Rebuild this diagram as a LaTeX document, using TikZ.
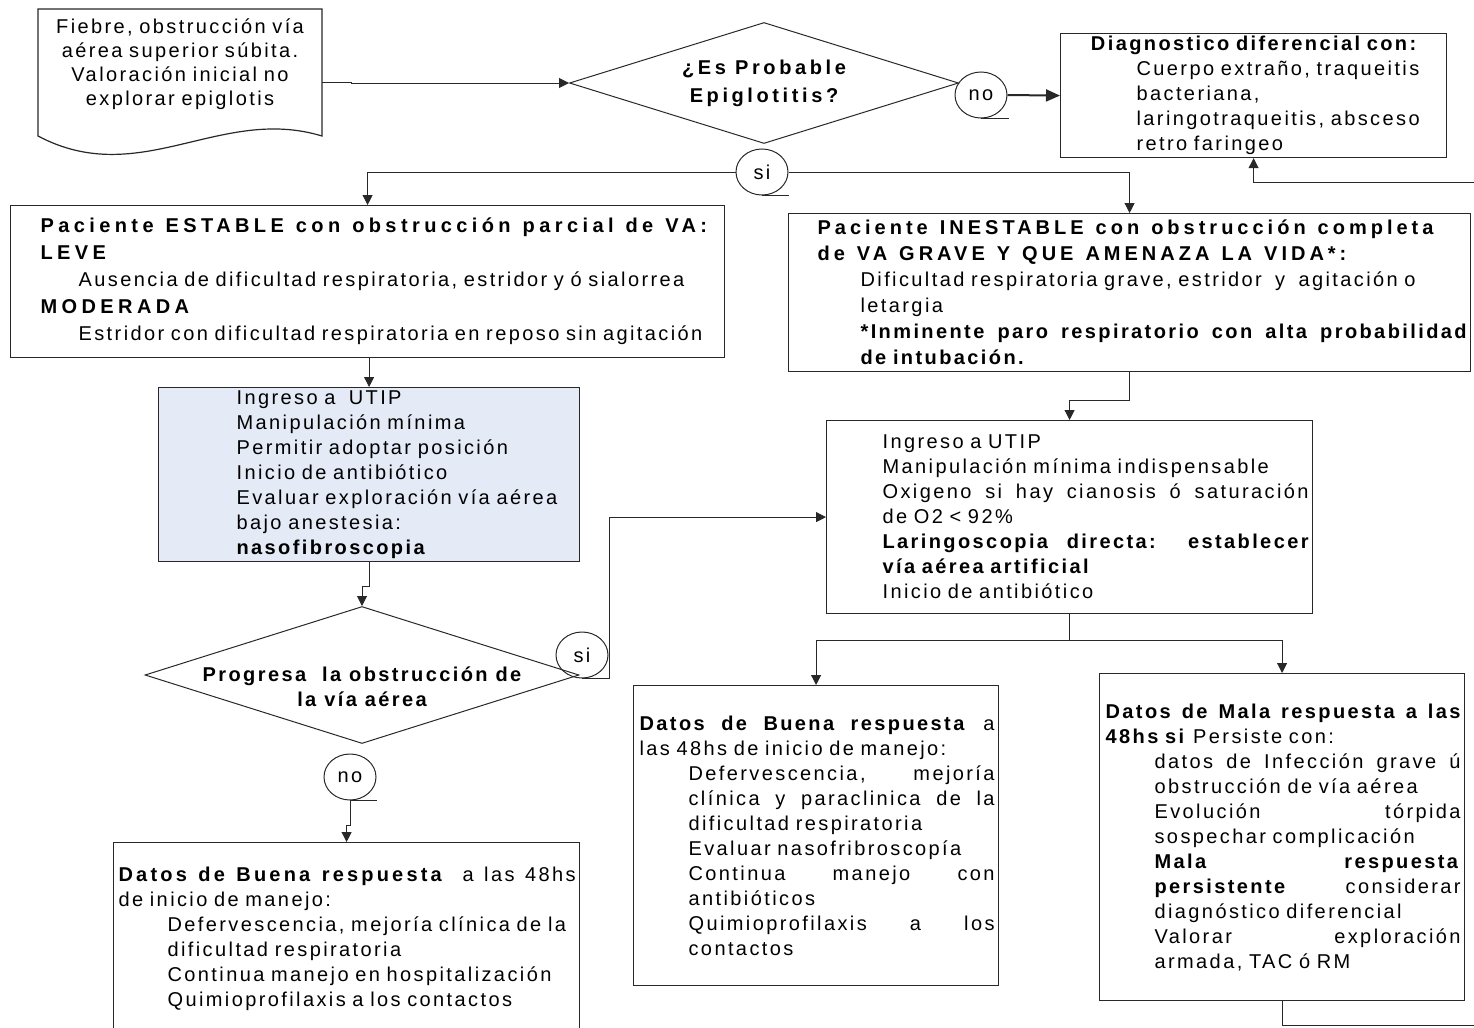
\documentclass[tikz,border=0pt]{standalone}
\usepackage{fontspec}
\setmainfont{Liberation Sans}[LetterSpace=12]
\newfontfamily\widefont{Liberation Sans}[LetterSpace=18]
\newfontfamily\stabfont{Liberation Sans}[LetterSpace=22]
\newfontfamily\inesfont{Liberation Sans}[LetterSpace=20]
\newfontfamily\medfont{Liberation Sans}[LetterSpace=16]
\usetikzlibrary{arrows.meta,shapes.geometric}
\definecolor{linegray}{RGB}{40,40,40}
\definecolor{paleblue}{RGB}{228,234,246}
\newlength\px \setlength\px{0.5pt}
\newcommand\rl[2]{\hspace*{#1\px}{#2}}
\newcommand\jl[2]{\hspace*{#1\px}\makebox[\dimexpr\linewidth-#1\px\relax][s]{\spaceskip=0pt \xspaceskip=0pt #2}}
\newcommand\tl[3]{\hspace*{#1\px}{#2\bfseries\spaceskip=6pt\xspaceskip=6pt\relax #3}}
\begin{document}
\begin{tikzpicture}[x=0.5pt,y=-0.5pt,
  every node/.style={font=\fontsize{10}{12.5}\selectfont},
  box/.style={draw=linegray,line width=0.6pt,inner xsep=2pt,inner ysep=0pt,align=left,anchor=north west},
  dec/.style={diamond,draw=linegray,line width=0.5pt,inner sep=0pt},
  tag/.style={ellipse,draw=linegray,line width=0.5pt,inner sep=0pt,minimum width=26pt,minimum height=23pt},
  conn/.style={draw=linegray,line width=0.5pt,-{Triangle[length=5pt,width=5pt]}},
  stub/.style={draw=linegray,line width=0.5pt}]
  \useasboundingbox (0,0) rectangle (1474,1028);
  \clip (0,0) rectangle (1474,1028);
  % start
  \node[text width=138pt,align=center,minimum width=142pt,inner sep=0pt,font=\fontsize{10}{12}\selectfont] (doc) at (180,64)
    {Fiebre, obstrucción vía\\aérea superior súbita.\\Valoración inicial no\\explorar epiglotis};
  \draw[line width=0.6pt,linegray] (38,9) -- (322,9) -- (322,136) .. controls (220,105) and (140,190) .. (38,136) -- cycle;
  % decisions
  \node[dec,minimum width=194.5pt,minimum height=60.5pt,
    label={[font=\fontsize{10}{14}\selectfont\widefont\bfseries,align=center]center:¿Es Probable\\Epiglotitis?}] (d1) at (764,83) {};
  \node[dec,minimum width=217pt,minimum height=68.5pt,
    label={[yshift=-6pt,font=\fontsize{10}{12.5}\selectfont\bfseries,align=center]center:Progresa\ \ la obstrucción de\\la vía aérea}] (d2) at (362,675) {};
  \node[tag] (no1) at (981,95) {no};
  \node[tag] (si1) at (762,172) {si};
  \node[tag] (si2) at (582,655) {si};
  \node[tag] (no2) at (350,777) {no};
  \draw[stub] (no1.south) -- ++(28,0);
  \draw[stub] (si1.south) -- ++(27,0);
  \draw[stub] (no2.south) -- ++(27,0);
  % boxes
  \node[box,minimum width=193pt,minimum height=62pt,text width=189pt] (dd) at (1060,33) {%
    \makebox[\linewidth][c]{\bfseries Diagnostico diferencial con:}\\
    \rl{72}{Cuerpo extraño, traqueitis}\\
    \rl{72}{bacteriana,}\\
    \rl{72}{laringotraqueitis, absceso}\\
    \rl{72}{retro faringeo}};
  \node[box,minimum width=357pt,minimum height=76pt,text width=353pt,font=\fontsize{10}{13.5}\selectfont] (estable) at (10,205) {%
    \tl{26}{\stabfont}{Paciente ESTABLE con obstrucción parcial de VA:}\\
    \tl{26}{\stabfont}{LEVE}\\
    \rl{64}{Ausencia de dificultad respiratoria, estridor y ó sialorrea}\\
    \tl{26}{\stabfont}{MODERADA}\\
    \rl{64}{Estridor con dificultad respiratoria en reposo sin agitación}};
  \node[box,minimum width=341pt,minimum height=79pt,text width=337pt,font=\fontsize{10}{13}\selectfont] (inestable) at (788,213) {%
    \tl{25}{\inesfont}{Paciente INESTABLE con obstrucción completa}\\
    \tl{25}{\inesfont}{de VA GRAVE Y QUE AMENAZA LA VIDA*:}\\
    \rl{68}{Dificultad respiratoria grave, estridor\ \ y\ \ agitación o}\\
    \rl{68}{letargia}\\
    \jl{68}{\bfseries *Inminente paro respiratorio con alta probabilidad}\\
    \rl{68}{\bfseries de intubación.}};
  \node[box,fill=paleblue,minimum width=210.5pt,minimum height=87pt,text width=206.5pt] (utipa) at (158,387) {%
    \rl{74}{Ingreso a\ \ UTIP}\\
    \rl{74}{Manipulación mínima}\\
    \rl{74}{Permitir adoptar posición}\\
    \rl{74}{Inicio de antibiótico}\\
    \rl{74}{Evaluar exploración vía aérea}\\
    \rl{74}{bajo anestesia:}\\
    \rl{74}{\bfseries nasofibroscopia}};
  \node[box,minimum width=243pt,minimum height=96.5pt,text width=239pt] (utipb) at (826,420) {%
    \rl{52}{Ingreso a UTIP}\\
    \rl{52}{Manipulación mínima indispensable}\\
    \jl{52}{Oxigeno si hay cianosis ó saturación}\\
    \rl{52}{de O2 < 92\%}\\
    \jl{52}{\bfseries Laringoscopia directa: establecer}\\
    \rl{52}{\bfseries vía aérea artificial}\\
    \rl{52}{Inicio de antibiótico}};
  \node[box,minimum width=182.5pt,minimum height=150pt,text width=178.5pt] (buenab) at (633,685) {%
    \jl{2}{\textbf{Datos de Buena respuesta} a}\\
    \rl{2}{las 48hs de inicio de manejo:}\\
    \jl{51}{Defervescencia, mejoría}\\
    \jl{51}{clínica y paraclinica de la}\\
    \rl{51}{dificultad respiratoria}\\
    \rl{51}{Evaluar nasofribroscopía}\\
    \jl{51}{Continua manejo con}\\
    \rl{51}{antibióticos}\\
    \jl{51}{Quimioprofilaxis a los}\\
    \rl{51}{contactos}};
  \node[box,minimum width=182.5pt,minimum height=163.5pt,text width=178.5pt] (mala) at (1099,673) {%
    \jl{2}{\bfseries Datos de Mala respuesta a las}\\
    \rl{2}{\textbf{48hs si} Persiste con:}\\
    \jl{51}{datos de Infección grave ú}\\
    \rl{51}{obstrucción de vía aérea}\\
    \jl{51}{Evolución tórpida}\\
    \rl{51}{sospechar complicación}\\
    \jl{51}{\textbf{Mala} \textbf{respuesta}}\\
    \jl{51}{\textbf{persistente} considerar}\\
    \rl{51}{diagnóstico diferencial}\\
    \jl{51}{Valorar exploración}\\
    \rl{51}{armada, TAC ó RM}};
  \node[box,minimum width=233pt,minimum height=96pt,text width=229pt] (buenaa) at (113,842) {%
    \jl{1}{{\medfont\bfseries Datos de Buena respuesta}\ \ a las 48hs}\\
    \rl{1}{de inicio de manejo:}\\
    \rl{50}{Defervescencia, mejoría clínica de la}\\
    \rl{50}{dificultad respiratoria}\\
    \rl{50}{Continua manejo en hospitalización}\\
    \rl{50}{Quimioprofilaxis a los contactos}};
  % connectors
  \draw[conn] ([yshift=-9pt]doc.east) -- ++(29,0) |- (d1.west);
  \draw[conn,line width=1pt,-{Triangle[length=7pt,width=6pt]}] (no1.east) -- (dd.west);
  \draw[conn] (si1.west) -| (estable.north);
  \draw[conn] (si1.east) -| (inestable.north);
  \draw[conn] (estable.south -| utipa.north) -- (utipa.north);
  \draw[conn] (utipa.south) -- ++(0,24) -| (d2.north);
  \coordinate (si2end) at ([xshift=13.5pt]si2.south);
  \draw[stub] (si2.south) -- (si2end);
  \draw[conn] (si2end) |- (utipb.west);
  \draw[conn] (no2.south) -- ++(0,25) -| (buenaa.north);
  \draw[conn] (inestable.south) -- ++(0,28) -| (utipb.north);
  \draw[stub] (utipb.south) -- ++(0,26) coordinate (split);
  \draw[conn] (split) -| (buenab.north);
  \draw[conn] (split) -| (mala.north);
  \coordinate (outb) at (1500,1025);
  \coordinate (outt) at (1500,182);
  \draw[conn] (mala.south) |- (outb) -- (outt) -| (dd.south);
\end{tikzpicture}
\end{document}
